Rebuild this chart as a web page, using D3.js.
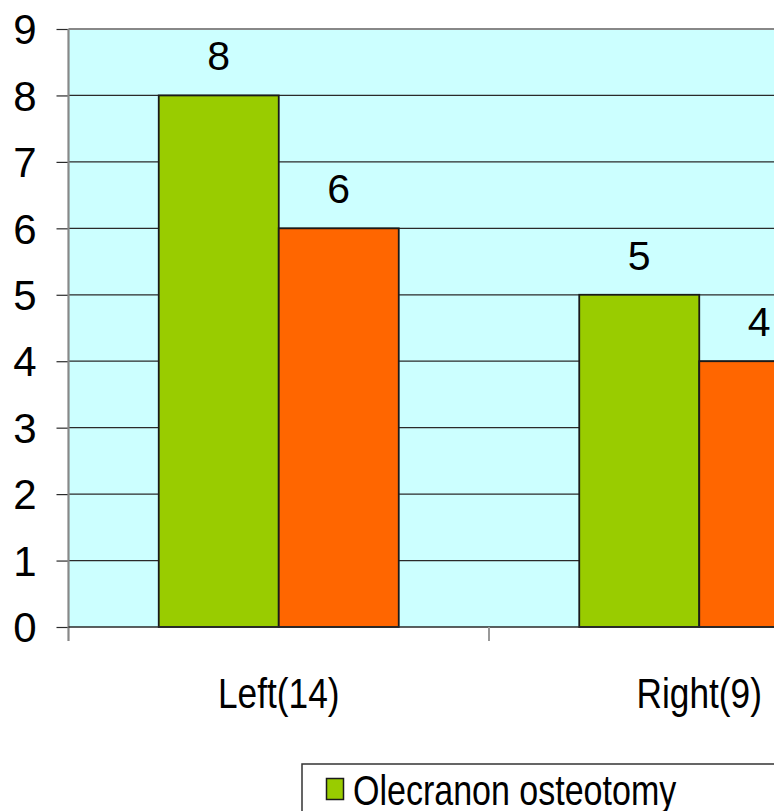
<!DOCTYPE html>
<html>
<head>
<meta charset="utf-8">
<script src="https://cdn.jsdelivr.net/npm/d3@7"></script>
<style>
  html, body { margin: 0; padding: 0; background: #fff; overflow: hidden; }
  svg { display: block; }
</style>
</head>
<body>
<svg id="chart" width="774" height="811"></svg>
<script>
// Chart data
const categories = ["Left(14)", "Right(9)"];
const seriesKeys = ["osteotomy", "other"];
const seriesColors = ["#99CC00", "#FF6600"];
const osteotomyValues = [8, 5];
const otherValues = [6, 4];
const yTicks = [0, 1, 2, 3, 4, 5, 6, 7, 8, 9];
const legendLabels = ["Olecranon osteotomy"];

const valuesBySeries = [osteotomyValues, otherValues];

const svg = d3.select("#chart");
const numFont = "'Liberation Sans', Arial, sans-serif";
const textFont = "'Liberation Sans', Arial, sans-serif";
// condensed look for the word labels
const narrowCat = 0.84, narrowLegend = 0.81;

// Plot geometry
const plotLeft = 68.5, plotTop = 29, plotBottom = 627;
const bandStep = 420.5;
const plotRight = plotLeft + bandStep * categories.length;

const y = d3.scaleLinear().domain([0, 9]).range([plotBottom, plotTop]);
const x0 = d3.scaleBand().domain(categories).range([plotLeft, plotRight]).padding(0);
const x1 = d3.scaleBand().domain(seriesKeys).range([0, x0.bandwidth()])
  .paddingInner(0).paddingOuter(0.752);

// Plot background
svg.append("rect")
  .attr("x", plotLeft).attr("y", plotTop)
  .attr("width", plotRight - plotLeft).attr("height", plotBottom - plotTop)
  .attr("fill", "#CCFFFF");

// Horizontal gridlines
svg.append("g")
  .selectAll("line")
  .data(yTicks.filter(t => t > 0 && t < 9))
  .join("line")
  .attr("x1", plotLeft).attr("x2", plotRight)
  .attr("y1", d => y(d)).attr("y2", d => y(d))
  .attr("stroke", "#2a2a2a").attr("stroke-width", 1.2);

// Top border of the plot area
svg.append("line")
  .attr("x1", plotLeft).attr("x2", plotRight)
  .attr("y1", y(9)).attr("y2", y(9))
  .attr("stroke", "#888").attr("stroke-width", 2);

// Bars
const groups = svg.append("g")
  .selectAll("g")
  .data(categories)
  .join("g")
  .attr("transform", d => `translate(${x0(d)},0)`);

groups.selectAll("rect")
  .data((c, ci) => seriesKeys.map((k, si) => ({ key: k, si, value: valuesBySeries[si][ci] })))
  .join("rect")
  .attr("x", d => x1(d.key))
  .attr("y", d => y(d.value))
  .attr("width", x1.bandwidth())
  .attr("height", d => y(0) - y(d.value))
  .attr("fill", d => seriesColors[d.si])
  .attr("stroke", "#1a1a1a")
  .attr("stroke-width", 1.8);

// Value labels above bars
groups.selectAll("text")
  .data((c, ci) => seriesKeys.map((k, si) => ({ key: k, si, value: valuesBySeries[si][ci] })))
  .join("text")
  .attr("x", d => x1(d.key) + x1.bandwidth() / 2)
  .attr("y", d => y(d.value) - 25)
  .attr("text-anchor", "middle")
  .attr("font-family", numFont)
  .attr("font-size", 41)
  .attr("fill", "#000")
  .text(d => d.value);

// Y axis
const yAxis = svg.append("g")
  .attr("transform", `translate(${plotLeft},0)`)
  .call(d3.axisLeft(y).tickValues(yTicks).tickSize(12).tickPadding(20).tickFormat(d3.format("d")));
yAxis.select(".domain").remove();
yAxis.selectAll(".tick line").attr("stroke", "#2a2a2a").attr("stroke-width", 1.2);
yAxis.selectAll(".tick text")
  .attr("font-family", numFont)
  .attr("font-size", 42)
  .attr("fill", "#000")
  .attr("dy", "0.35em");

// Y axis line (grey, extends slightly below zero)
svg.append("line")
  .attr("x1", plotLeft).attr("x2", plotLeft)
  .attr("y1", plotTop).attr("y2", plotBottom + 14)
  .attr("stroke", "#888").attr("stroke-width", 2.2);

// X axis baseline
svg.append("line")
  .attr("x1", plotLeft).attr("x2", plotRight)
  .attr("y1", plotBottom).attr("y2", plotBottom)
  .attr("stroke", "#2a2a2a").attr("stroke-width", 1.6);

// Category separator ticks
svg.append("g")
  .selectAll("line")
  .data(categories.slice(1))
  .join("line")
  .attr("x1", d => x0(d)).attr("x2", d => x0(d))
  .attr("y1", plotBottom).attr("y2", plotBottom + 14)
  .attr("stroke", "#999").attr("stroke-width", 2);

// Category labels
svg.append("g")
  .selectAll("text")
  .data(categories)
  .join("text")
  .attr("transform", d => `translate(${x0(d) + x0.bandwidth() / 2},708) scale(${narrowCat},1)`)
  .attr("text-anchor", "middle")
  .attr("font-family", textFont)
  .attr("font-size", 42)
  .attr("fill", "#000")
  .text(d => d);

// Legend
const legend = svg.append("g").attr("transform", "translate(302,764)");
legend.append("rect")
  .attr("x", 0).attr("y", 0)
  .attr("width", 520).attr("height", 120)
  .attr("fill", "#fff")
  .attr("stroke", "#333").attr("stroke-width", 1.5);
const items = legend.selectAll("g.item")
  .data(legendLabels)
  .join("g")
  .attr("class", "item")
  .attr("transform", (d, i) => `translate(0,${i * 48})`);
items.append("rect")
  .attr("x", 24.5).attr("y", 14.5)
  .attr("width", 17).attr("height", 21)
  .attr("fill", (d, i) => seriesColors[i])
  .attr("stroke", "#1a1a1a").attr("stroke-width", 1.5);
items.append("text")
  .attr("transform", `translate(51,41) scale(${narrowLegend},1)`)
  .attr("font-family", textFont)
  .attr("font-size", 42)
  .attr("fill", "#000")
  .text(d => d);
</script>
</body>
</html>
